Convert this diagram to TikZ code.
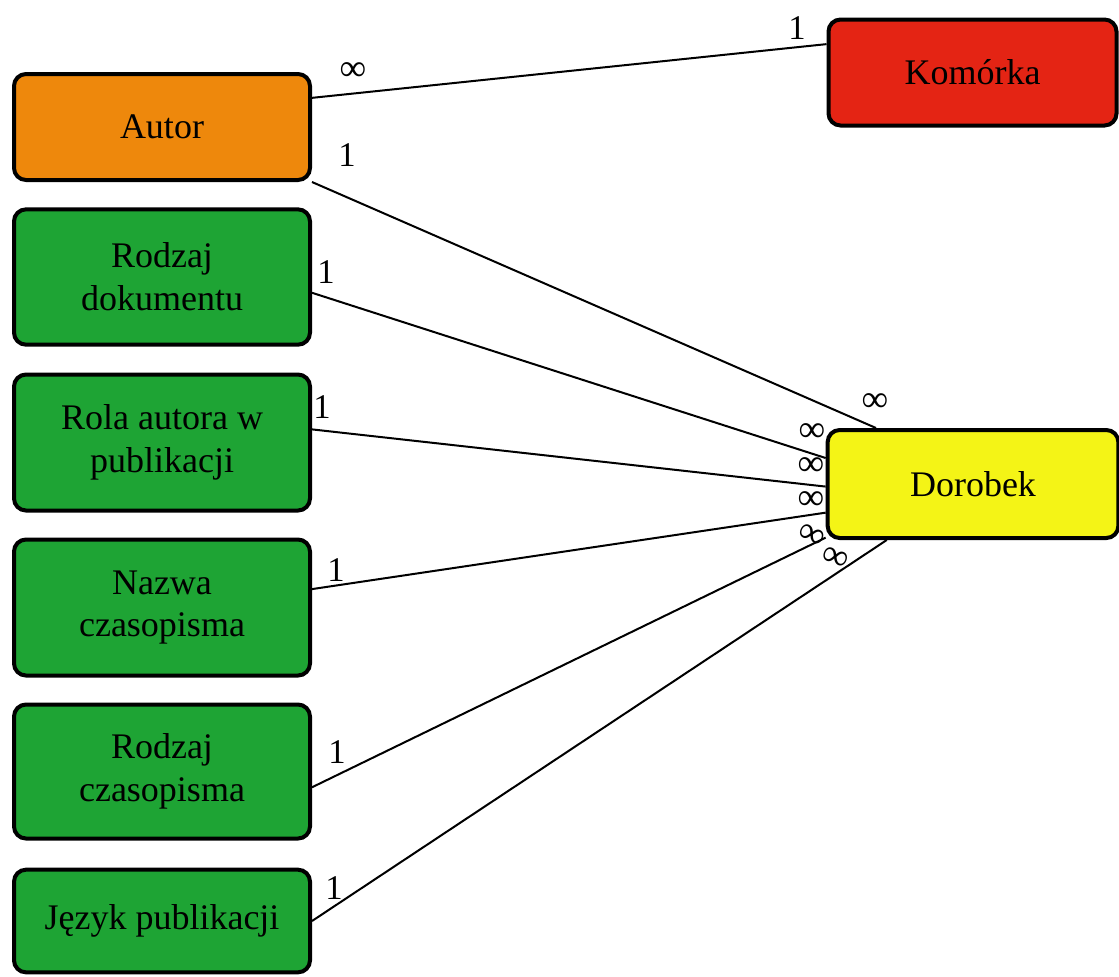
\documentclass[tikz,border=0pt]{standalone}
\usepackage{fontspec}
\setmainfont{Liberation Serif}
\usetikzlibrary{backgrounds}
\definecolor{autorOrange}{RGB}{238,136,12}
\definecolor{komRed}{RGB}{228,36,20}
\definecolor{slownikGreen}{RGB}{30,164,52}
\definecolor{dorobekYellow}{RGB}{244,244,22}
\tikzset{
  tabela/.style={draw=black,line width=3pt,rounded corners=9pt,align=center,
    minimum width=222pt,minimum height=79.5pt,inner sep=2pt,
    font=\fontsize{27}{32}\selectfont},
  relacja/.style={draw=black,line width=1.5pt},
  krotnosc/.style={inner sep=0pt,font=\fontsize{26}{30}\selectfont},
  wiele/.style={inner sep=0pt,font=\fontsize{28}{30}\selectfont}
}
\begin{document}
\begin{tikzpicture}[x=0.75pt,y=0.75pt,yscale=-1,xscale=1]
\useasboundingbox (0,0) rectangle (1119,976);

%Tables
\node[tabela,fill=autorOrange] (autor) at (162,127) {Autor};
\node[tabela,fill=komRed,minimum width=216pt] (komorka) at (972.5,72.5) {Komórka};
\node[tabela,fill=slownikGreen,minimum height=101.5pt] (rodzajdok) at (162,277) {Rodzaj\\dokumentu};
\node[tabela,fill=slownikGreen,minimum height=102pt] (rola) at (162,442.5) {Rola autora w\\publikacji};
\node[tabela,fill=slownikGreen,minimum height=102pt] (nazwa) at (162,607.5) {Nazwa\\czasopisma};
\node[tabela,fill=slownikGreen,minimum height=100.5pt] (rodzajczas) at (162,771.5) {Rodzaj\\czasopisma};
\node[tabela,fill=slownikGreen,minimum height=77pt] (jezyk) at (162,921) {Język publikacji};
\node[tabela,fill=dorobekYellow,minimum width=218pt,minimum height=81pt] (dorobek) at (973,484) {Dorobek};

%Relations
\begin{scope}[on background layer]
\draw[relacja] (autor.11) -- (komorka.169);
\draw[relacja] (autor.south east) -- (dorobek.150);
\draw[relacja] (rodzajdok.-6) -- (dorobek.170);
\draw[relacja] (rola.5) -- (dorobek.181);
\draw[relacja] (nazwa.7) -- (dorobek.191);
\draw[relacja] (rodzajczas.-6) -- (dorobek.200);
\draw[relacja] (jezyk.east) -- (dorobek.213);
\end{scope}

% Text Node
\node[wiele] (k1) at (353,72) {∞};
\node[krotnosc] (k2) at (797,28) {1};
\node[krotnosc] (k3) at (347,155) {1};
\node[wiele] (k4) at (875,403) {∞};
\node[krotnosc] (k5) at (326,272) {1};
\node[wiele] (k6) at (812,433) {∞};
\node[krotnosc] (k7) at (322,407) {1};
\node[wiele] (k8) at (811,467) {∞};
\node[krotnosc] (k9) at (336,570) {1};
\node[wiele] (k10) at (811,501) {∞};
\node[krotnosc] (k11) at (337,752) {1};
\node[wiele,rotate=-25] (k12) at (811,536) {∞};
\node[krotnosc] (k13) at (334,888) {1};
\node[wiele,rotate=-20] (k14) at (835,559) {∞};
\end{tikzpicture}
\end{document}
